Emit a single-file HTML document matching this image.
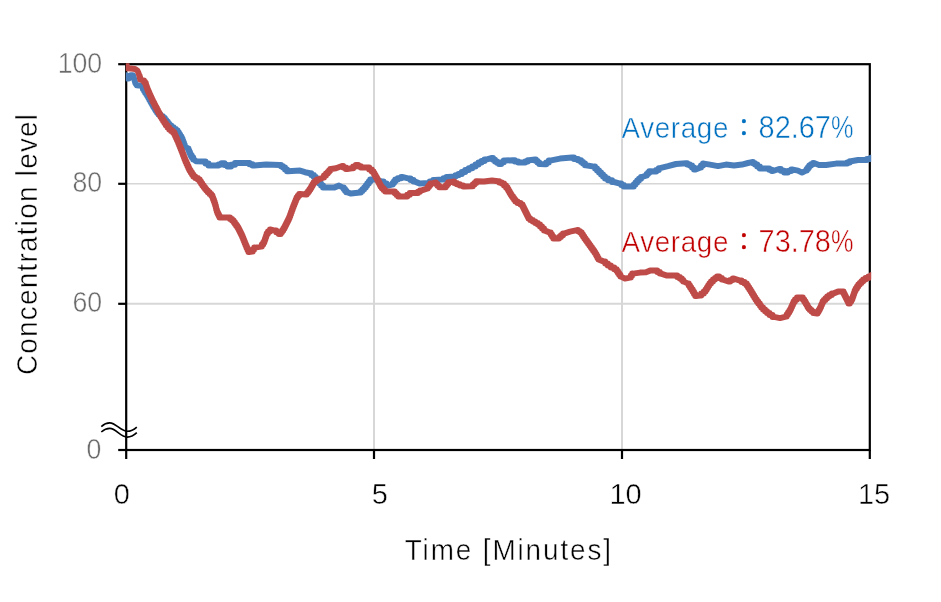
<!DOCTYPE html>
<html lang="en">
<head>
<meta charset="utf-8">
<title>Concentration level over time</title>
<style>
html,body{margin:0;padding:0;background:#fff;}
body{width:941px;height:602px;overflow:hidden;position:relative;font-family:"Liberation Sans","Noto Sans CJK JP",sans-serif;}
svg{position:absolute;left:0;top:0;display:block;}
text{font-family:"Liberation Sans","Noto Sans CJK JP",sans-serif;}
.yt text{font-size:29.2px;fill:#6b6b6b;text-anchor:end;}
.xt text{font-size:29.9px;fill:#000;text-anchor:middle;}
.lab{font-size:30px;fill:#000;text-anchor:middle;}
.avg{font-size:31.2px;}
.aw{font-size:30px;letter-spacing:0.68px;}
.col{font-size:24px;stroke:currentColor;stroke-width:0.7px;}
text{stroke:#fff;stroke-width:0.5px;paint-order:fill stroke;}
</style>
</head>
<body>
<svg width="941" height="602" viewBox="0 0 941 602">
<rect width="941" height="602" fill="#ffffff"/>
<!-- gridlines -->
<g stroke="#d7d7d7" stroke-width="2" fill="none">
<line x1="127" y1="183.8" x2="869" y2="183.8" stroke="#d6d6d6" stroke-width="1.6"/>
<line x1="127" y1="303.7" x2="869" y2="303.7"/>
<line x1="374" y1="65" x2="374" y2="449"/>
<line x1="622" y1="65" x2="622" y2="449"/>
</g>
<!-- axes -->
<g stroke="#000" stroke-width="2.2" fill="none" stroke-linecap="butt">
<rect x="126.2" y="64.2" width="743.6" height="385.8"/>
<line x1="118.2" y1="64.2" x2="126" y2="64.2"/>
<line x1="118.2" y1="183.8" x2="126" y2="183.8"/>
<line x1="118.2" y1="303.8" x2="126" y2="303.8"/>
<line x1="118.2" y1="450" x2="126" y2="450"/>
<line x1="126.2" y1="450" x2="126.2" y2="459"/>
<line x1="374" y1="450" x2="374" y2="459"/>
<line x1="622" y1="450" x2="622" y2="459"/>
<line x1="869.8" y1="450" x2="869.8" y2="459"/>
</g>
<!-- axis break -->
<g stroke="#000" stroke-width="1.6" fill="none" stroke-linecap="butt">
<path d="M101.3,426.6 C104,424.1 106.8,422.9 109.8,422.9 C116,422.9 120.5,431.3 127.2,431.3 C130.8,431.3 133.8,429.8 136.8,427.1"/>
<path d="M101.3,432 C104,429.6 106.8,428.4 109.8,428.4 C116,428.4 120.5,437.1 127.2,437.1 C130.8,437.1 133.8,435.5 136.8,432.7"/>
</g>
<!-- series -->
<defs><clipPath id="plot"><rect x="125.8" y="63.2" width="745.4" height="388"/></clipPath></defs>
<polyline fill="none" stroke="#4a7ebb" stroke-width="6" stroke-linejoin="round" stroke-linecap="round" clip-path="url(#plot)" points="125.0,75.2 126.4,75.2 127.3,78.4 129.0,78.4 130.8,75.3 133.0,75.3 134.2,79.0 135.3,83.0 136.8,85.3 139.0,85.6 140.8,85.5 142.4,87.0 142.9,87.0 142.9,89.0 144.1,89.0 144.1,91.0 144.6,91.0 145.1,91.0 145.1,92.7 146.2,92.7 146.2,94.3 147.3,94.3 147.3,96.0 147.8,96.0 148.3,96.0 148.3,97.8 149.3,97.8 149.3,99.7 150.3,99.7 150.3,101.5 150.8,101.5 151.3,101.5 151.3,103.2 152.2,103.2 152.2,104.8 153.1,104.8 153.1,106.5 153.6,106.5 154.1,106.5 154.1,108.0 155.0,108.0 155.0,109.5 155.9,109.5 155.9,111.0 156.4,111.0 157.1,111.0 157.1,112.8 158.5,112.8 158.5,114.5 159.2,114.5 160.4,114.5 160.4,116.2 162.8,116.2 162.8,118.0 164.0,118.0 164.8,118.0 164.8,119.9 166.2,119.9 166.2,121.8 167.8,121.8 167.8,123.7 169.2,123.7 169.2,125.6 170.0,125.6 171.2,125.6 171.2,127.3 173.5,127.3 173.5,128.9 175.8,128.9 175.8,130.6 177.0,130.6 177.6,130.6 177.6,132.6 178.9,132.6 178.9,134.6 180.1,134.6 180.1,136.6 181.4,136.6 181.4,138.6 182.0,138.6 182.4,138.6 182.4,140.6 183.1,140.6 183.1,142.6 183.9,142.6 183.9,144.6 184.6,144.6 184.6,146.6 185.0,146.6 188.0,148.6 188.4,148.6 188.4,150.3 189.1,150.3 189.1,152.1 189.9,152.1 189.9,153.8 190.6,153.8 190.6,155.6 191.0,155.6 191.8,155.6 191.8,157.6 193.2,157.6 193.2,159.6 194.0,159.6 196.0,161.2 204.0,161.6 205.5,161.6 205.5,163.6 208.5,163.6 208.5,165.6 210.0,165.6 217.0,165.6 218.5,165.6 218.5,164.4 221.5,164.4 221.5,163.2 223.0,163.2 224.5,163.2 224.5,164.9 227.5,164.9 227.5,166.6 229.0,166.6 231.0,166.6 231.0,164.8 235.0,164.8 235.0,163.0 237.0,163.0 248.0,163.0 249.5,163.0 249.5,164.3 252.5,164.3 252.5,165.6 254.0,165.6 266.0,164.6 280.0,165.0 281.0,165.0 281.0,166.3 283.0,166.3 283.0,167.6 284.0,167.6 285.0,167.6 285.0,169.4 287.0,169.4 287.0,171.2 288.0,171.2 300.0,170.6 305.0,172.2 310.0,173.2 311.2,173.2 311.2,175.1 313.8,175.1 313.8,177.0 315.0,177.0 315.8,177.0 315.8,179.2 317.5,179.2 317.5,181.4 319.2,181.4 319.2,183.6 320.0,183.6 321.0,183.6 321.0,185.6 323.0,185.6 323.0,187.6 324.0,187.6 334.0,187.6 339.0,185.6 343.0,187.6 343.7,187.6 343.7,189.1 345.0,189.1 345.0,190.7 346.3,190.7 346.3,192.2 347.0,192.2 351.0,193.6 360.0,192.6 360.8,192.6 360.8,190.9 362.5,190.9 362.5,189.3 364.2,189.3 364.2,187.6 365.0,187.6 365.8,187.6 365.8,185.6 367.2,185.6 367.2,183.6 368.8,183.6 368.8,181.6 370.2,181.6 370.2,179.6 371.0,179.6 376.0,179.6 382.0,181.6 383.5,181.6 383.5,183.6 386.5,183.6 386.5,185.6 388.0,185.6 392.0,184.6 392.7,184.6 392.7,182.9 394.0,182.9 394.0,181.3 395.3,181.3 395.3,179.6 396.0,179.6 397.8,179.6 397.8,178.3 401.2,178.3 401.2,177.1 403.0,177.1 409.0,178.6 410.5,178.6 410.5,180.1 413.5,180.1 413.5,181.6 415.0,181.6 420.0,183.6 428.0,183.0 429.8,183.0 429.8,181.5 433.2,181.5 433.2,180.0 435.0,180.0 442.0,179.6 443.5,179.6 443.5,178.3 446.5,178.3 446.5,177.0 448.0,177.0 454.0,176.6 455.5,176.6 455.5,175.3 458.5,175.3 458.5,174.1 460.0,174.1 461.8,174.1 461.8,172.1 465.2,172.1 465.2,170.0 467.0,170.0 468.8,170.0 468.8,168.3 472.2,168.3 472.2,166.6 474.0,166.6 475.5,166.6 475.5,164.6 478.5,164.6 478.5,162.6 480.0,162.6 481.5,162.6 481.5,161.1 484.5,161.1 484.5,159.6 486.0,159.6 492.0,158.0 493.0,158.0 493.0,159.8 495.0,159.8 495.0,161.6 496.0,161.6 497.0,161.6 497.0,162.8 499.0,162.8 499.0,164.1 500.0,164.1 501.2,164.1 501.2,162.3 503.8,162.3 503.8,160.6 505.0,160.6 513.0,160.2 514.8,160.2 514.8,161.4 518.2,161.4 518.2,162.6 520.0,162.6 524.0,162.6 525.2,162.6 525.2,161.4 527.8,161.4 527.8,160.2 529.0,160.2 535.0,159.6 535.8,159.6 535.8,161.1 537.5,161.1 537.5,162.6 539.2,162.6 539.2,164.1 540.0,164.1 545.0,164.2 546.2,164.2 546.2,162.4 548.8,162.4 548.8,160.6 550.0,160.6 560.0,158.6 572.0,157.6 574.0,157.6 574.0,158.9 578.0,158.9 578.0,160.2 580.0,160.2 581.0,160.2 581.0,161.9 583.0,161.9 583.0,163.5 585.0,163.5 585.0,165.2 586.0,165.2 594.0,166.6 595.0,166.6 595.0,168.6 597.0,168.6 597.0,170.6 599.0,170.6 599.0,172.6 600.0,172.6 601.0,172.6 601.0,174.6 603.0,174.6 603.0,176.6 605.0,176.6 605.0,178.6 606.0,178.6 608.0,178.6 608.0,180.3 612.0,180.3 612.0,182.0 614.0,182.0 620.0,183.6 621.2,183.6 621.2,185.1 623.8,185.1 623.8,186.6 625.0,186.6 633.0,186.6 633.8,186.6 633.8,184.6 635.5,184.6 635.5,182.6 637.2,182.6 637.2,180.6 638.0,180.6 639.0,180.6 639.0,178.8 641.0,178.8 641.0,177.0 642.0,177.0 646.0,175.6 646.7,175.6 646.7,174.1 648.0,174.1 648.0,172.7 649.3,172.7 649.3,171.2 650.0,171.2 655.0,171.6 656.2,171.6 656.2,169.9 658.8,169.9 658.8,168.2 660.0,168.2 668.0,166.2 676.0,164.0 686.0,163.2 687.2,163.2 687.2,164.4 689.8,164.4 689.8,165.6 691.0,165.6 692.0,165.6 692.0,167.6 694.0,167.6 694.0,169.6 695.0,169.6 700.0,167.6 701.0,167.6 701.0,165.6 703.0,165.6 703.0,163.6 704.0,163.6 710.0,164.6 718.0,166.1 726.0,164.6 734.0,165.6 742.0,164.6 748.0,163.0 752.0,162.1 753.0,162.1 753.0,163.3 755.0,163.3 755.0,164.6 756.0,164.6 757.2,164.6 757.2,166.6 759.8,166.6 759.8,168.6 761.0,168.6 768.0,168.6 769.2,168.6 769.2,169.8 771.8,169.8 771.8,171.0 773.0,171.0 779.0,169.0 780.8,169.0 780.8,170.8 784.2,170.8 784.2,172.6 786.0,172.6 787.8,172.6 787.8,171.1 791.2,171.1 791.2,169.6 793.0,169.6 798.0,170.6 802.0,172.6 806.0,170.6 806.7,170.6 806.7,168.9 808.0,168.9 808.0,167.3 809.3,167.3 809.3,165.6 810.0,165.6 811.0,165.6 811.0,164.3 813.0,164.3 813.0,163.0 814.0,163.0 819.0,165.0 826.0,165.0 836.0,163.6 846.0,163.6 847.2,163.6 847.2,162.4 849.8,162.4 849.8,161.2 851.0,161.2 858.0,160.0 865.0,160.0 867.0,160.0 867.0,158.9 871.0,158.9 871.0,157.8 873.0,157.8"/>
<polyline fill="none" stroke="#be4b48" stroke-width="6" stroke-linejoin="round" stroke-linecap="round" clip-path="url(#plot)" points="126.6,64.0 126.8,68.3 131.0,68.6 135.0,69.0 137.3,70.5 138.5,73.0 139.4,76.0 139.7,76.0 139.7,77.8 140.2,77.8 140.2,79.5 140.4,79.5 143.3,80.5 143.9,80.5 143.9,81.8 144.9,81.8 144.9,83.0 145.5,83.0 145.8,83.0 145.8,84.7 146.2,84.7 146.2,86.3 146.8,86.3 146.8,88.0 147.0,88.0 147.4,88.0 147.4,89.8 148.1,89.8 148.1,91.5 148.9,91.5 148.9,93.2 149.6,93.2 149.6,95.0 150.0,95.0 150.4,95.0 150.4,96.7 151.2,96.7 151.2,98.3 151.9,98.3 151.9,100.0 152.3,100.0 152.7,100.0 152.7,101.7 153.6,101.7 153.6,103.3 154.4,103.3 154.4,105.0 154.8,105.0 155.2,105.0 155.2,106.7 156.2,106.7 156.2,108.3 157.0,108.3 157.0,110.0 157.5,110.0 157.9,110.0 157.9,111.7 158.8,111.7 158.8,113.3 159.6,113.3 159.6,115.0 160.0,115.0 160.6,115.0 160.6,117.0 161.9,117.0 161.9,119.0 163.1,119.0 163.1,121.0 164.4,121.0 164.4,123.0 165.0,123.0 165.8,123.0 165.8,125.2 167.5,125.2 167.5,127.4 169.2,127.4 169.2,129.6 170.0,129.6 171.0,129.6 171.0,131.1 173.0,131.1 173.0,132.6 174.0,132.6 174.4,132.6 174.4,134.4 175.2,134.4 175.2,136.2 176.0,136.2 176.0,138.0 176.8,138.0 176.8,139.8 177.6,139.8 177.6,141.6 178.0,141.6 178.4,141.6 178.4,143.6 179.2,143.6 179.2,145.6 180.0,145.6 180.0,147.6 180.8,147.6 180.8,149.6 181.6,149.6 181.6,151.6 182.0,151.6 182.4,151.6 182.4,153.6 183.1,153.6 183.1,155.6 183.9,155.6 183.9,157.6 184.6,157.6 184.6,159.6 185.0,159.6 185.5,159.6 185.5,161.8 186.5,161.8 186.5,164.0 187.5,164.0 187.5,166.2 188.5,166.2 188.5,168.4 189.5,168.4 189.5,170.6 190.0,170.6 190.7,170.6 190.7,172.6 192.0,172.6 192.0,174.6 193.3,174.6 193.3,176.6 194.0,176.6 195.2,176.6 195.2,178.1 197.8,178.1 197.8,179.6 199.0,179.6 199.7,179.6 199.7,181.6 201.0,181.6 201.0,183.6 202.3,183.6 202.3,185.6 203.0,185.6 203.7,185.6 203.7,187.3 205.0,187.3 205.0,188.9 206.3,188.9 206.3,190.6 207.0,190.6 207.8,190.6 207.8,192.3 209.5,192.3 209.5,193.9 211.2,193.9 211.2,195.6 212.0,195.6 212.4,195.6 212.4,197.6 213.1,197.6 213.1,199.6 213.9,199.6 213.9,201.6 214.6,201.6 214.6,203.6 215.0,203.6 215.2,203.6 215.2,205.6 215.8,205.6 215.8,207.6 216.2,207.6 216.2,209.6 216.8,209.6 216.8,211.6 217.0,211.6 217.5,211.6 217.5,213.6 218.5,213.6 218.5,215.6 219.5,215.6 219.5,217.6 220.0,217.6 229.0,217.6 230.0,217.6 230.0,219.1 232.0,219.1 232.0,220.6 233.0,220.6 233.6,220.6 233.6,222.3 234.9,222.3 234.9,224.1 236.1,224.1 236.1,225.8 237.4,225.8 237.4,227.6 238.0,227.6 238.5,227.6 238.5,229.6 239.5,229.6 239.5,231.6 240.5,231.6 240.5,233.6 241.5,233.6 241.5,235.6 242.0,235.6 242.4,235.6 242.4,237.6 243.2,237.6 243.2,239.6 244.0,239.6 244.0,241.6 244.8,241.6 244.8,243.6 245.6,243.6 245.6,245.6 246.0,245.6 246.5,245.6 246.5,247.8 247.5,247.8 247.5,249.9 248.5,249.9 248.5,252.1 249.0,252.1 252.0,251.6 252.8,251.6 252.8,249.6 254.2,249.6 254.2,247.6 255.0,247.6 261.0,246.6 261.8,246.6 261.8,244.6 263.2,244.6 263.2,242.6 264.0,242.6 264.3,242.6 264.3,240.8 264.9,240.8 264.9,239.0 265.5,239.0 265.5,237.2 266.1,237.2 266.1,235.4 266.7,235.4 266.7,233.6 267.0,233.6 268.0,233.6 268.0,231.6 270.0,231.6 270.0,229.6 271.0,229.6 275.0,230.6 276.2,230.6 276.2,232.3 278.8,232.3 278.8,234.1 280.0,234.1 280.7,234.1 280.7,232.3 282.0,232.3 282.0,230.4 283.3,230.4 283.3,228.6 284.0,228.6 284.5,228.6 284.5,226.6 285.5,226.6 285.5,224.6 286.5,224.6 286.5,222.6 287.5,222.6 287.5,220.6 288.5,220.6 288.5,218.6 289.0,218.6 289.4,218.6 289.4,216.4 290.2,216.4 290.2,214.2 291.0,214.2 291.0,212.0 291.8,212.0 291.8,209.8 292.6,209.8 292.6,207.6 293.0,207.6 293.4,207.6 293.4,205.6 294.2,205.6 294.2,203.6 295.0,203.6 295.0,201.6 295.8,201.6 295.8,199.6 296.6,199.6 296.6,197.6 297.0,197.6 297.8,197.6 297.8,195.8 299.2,195.8 299.2,194.1 300.0,194.1 306.0,194.6 306.7,194.6 306.7,192.9 308.0,192.9 308.0,191.3 309.3,191.3 309.3,189.6 310.0,189.6 310.5,189.6 310.5,187.8 311.5,187.8 311.5,186.1 312.5,186.1 312.5,184.3 313.5,184.3 313.5,182.6 314.0,182.6 315.0,182.6 315.0,181.1 317.0,181.1 317.0,179.6 318.0,179.6 323.0,177.6 324.0,177.6 324.0,175.6 326.0,175.6 326.0,173.6 327.0,173.6 327.7,173.6 327.7,172.1 329.0,172.1 329.0,170.5 330.3,170.5 330.3,169.0 331.0,169.0 336.0,168.2 342.0,166.0 343.2,166.0 343.2,167.5 345.8,167.5 345.8,169.0 347.0,169.0 352.0,168.2 353.2,168.2 353.2,166.6 355.8,166.6 355.8,165.0 357.0,165.0 358.2,165.0 358.2,166.3 360.8,166.3 360.8,167.6 362.0,167.6 368.0,167.6 369.2,167.6 369.2,169.6 371.8,169.6 371.8,171.6 373.0,171.6 373.5,171.6 373.5,173.3 374.5,173.3 374.5,175.1 375.5,175.1 375.5,176.8 376.5,176.8 376.5,178.6 377.0,178.6 377.5,178.6 377.5,180.6 378.5,180.6 378.5,182.6 379.5,182.6 379.5,184.6 380.5,184.6 380.5,186.6 381.0,186.6 381.8,186.6 381.8,188.3 383.5,188.3 383.5,189.9 385.2,189.9 385.2,191.6 386.0,191.6 394.0,191.6 394.8,191.6 394.8,193.3 396.5,193.3 396.5,194.9 398.2,194.9 398.2,196.6 399.0,196.6 406.0,196.6 407.2,196.6 407.2,194.8 409.8,194.8 409.8,193.0 411.0,193.0 417.0,193.0 418.0,193.0 418.0,191.8 420.0,191.8 420.0,190.6 421.0,190.6 427.0,188.6 427.7,188.6 427.7,186.9 429.0,186.9 429.0,185.3 430.3,185.3 430.3,183.6 431.0,183.6 435.0,182.6 435.8,182.6 435.8,184.1 437.5,184.1 437.5,185.7 439.2,185.7 439.2,187.2 440.0,187.2 445.0,187.2 445.7,187.2 445.7,185.5 447.0,185.5 447.0,183.9 448.3,183.9 448.3,182.2 449.0,182.2 453.0,181.6 454.2,181.6 454.2,182.9 456.8,182.9 456.8,184.2 458.0,184.2 459.8,184.2 459.8,185.4 463.2,185.4 463.2,186.6 465.0,186.6 472.0,186.2 472.8,186.2 472.8,184.5 474.5,184.5 474.5,182.9 476.2,182.9 476.2,181.2 477.0,181.2 484.0,181.6 492.0,180.6 498.0,181.2 499.2,181.2 499.2,182.4 501.8,182.4 501.8,183.6 503.0,183.6 504.0,183.6 504.0,185.6 506.0,185.6 506.0,187.6 507.0,187.6 507.5,187.6 507.5,189.3 508.5,189.3 508.5,191.1 509.5,191.1 509.5,192.8 510.5,192.8 510.5,194.6 511.0,194.6 511.6,194.6 511.6,196.3 512.9,196.3 512.9,198.1 514.1,198.1 514.1,199.8 515.4,199.8 515.4,201.6 516.0,201.6 517.5,201.6 517.5,203.1 520.5,203.1 520.5,204.6 522.0,204.6 522.5,204.6 522.5,206.6 523.5,206.6 523.5,208.6 524.5,208.6 524.5,210.6 525.0,210.6 525.5,210.6 525.5,212.6 526.5,212.6 526.5,214.6 527.5,214.6 527.5,216.6 528.5,216.6 528.5,218.6 529.0,218.6 530.2,218.6 530.2,220.1 532.8,220.1 532.8,221.6 534.0,221.6 535.2,221.6 535.2,223.1 537.8,223.1 537.8,224.6 539.0,224.6 540.0,224.6 540.0,226.6 542.0,226.6 542.0,228.6 544.0,228.6 544.0,230.6 545.0,230.6 550.0,232.6 550.7,232.6 550.7,234.6 552.0,234.6 552.0,236.6 553.3,236.6 553.3,238.6 554.0,238.6 558.0,238.6 559.0,238.6 559.0,236.9 561.0,236.9 561.0,235.3 563.0,235.3 563.0,233.6 564.0,233.6 570.0,231.6 577.0,230.1 578.0,230.1 578.0,231.3 580.0,231.3 580.0,232.6 581.0,232.6 581.7,232.6 581.7,234.6 583.0,234.6 583.0,236.6 584.3,236.6 584.3,238.6 585.0,238.6 585.6,238.6 585.6,240.3 586.9,240.3 586.9,242.1 588.1,242.1 588.1,243.8 589.4,243.8 589.4,245.6 590.0,245.6 590.6,245.6 590.6,247.3 591.9,247.3 591.9,249.1 593.1,249.1 593.1,250.8 594.4,250.8 594.4,252.6 595.0,252.6 595.5,252.6 595.5,254.3 596.5,254.3 596.5,256.1 597.5,256.1 597.5,257.9 598.5,257.9 598.5,259.6 599.0,259.6 604.0,261.6 605.2,261.6 605.2,263.6 607.8,263.6 607.8,265.6 609.0,265.6 610.8,265.6 610.8,267.4 614.2,267.4 614.2,269.2 616.0,269.2 616.6,269.2 616.6,271.1 617.9,271.1 617.9,272.9 619.1,272.9 619.1,274.8 620.4,274.8 620.4,276.6 621.0,276.6 625.0,278.6 630.0,277.6 630.8,277.6 630.8,275.6 632.2,275.6 632.2,273.6 633.0,273.6 640.0,272.6 646.0,272.2 650.0,270.6 656.0,270.6 657.2,270.6 657.2,272.1 659.8,272.1 659.8,273.6 661.0,273.6 667.0,275.6 676.0,275.6 677.2,275.6 677.2,277.1 679.8,277.1 679.8,278.6 681.0,278.6 681.8,278.6 681.8,280.1 683.2,280.1 683.2,281.6 684.0,281.6 688.0,283.6 688.7,283.6 688.7,285.6 690.0,285.6 690.0,287.6 691.3,287.6 691.3,289.6 692.0,289.6 692.7,289.6 692.7,291.8 694.0,291.8 694.0,293.9 695.3,293.9 695.3,296.1 696.0,296.1 700.0,295.6 701.2,295.6 701.2,293.6 703.8,293.6 703.8,291.6 705.0,291.6 705.6,291.6 705.6,289.6 706.9,289.6 706.9,287.6 708.1,287.6 708.1,285.6 709.4,285.6 709.4,283.6 710.0,283.6 711.0,283.6 711.0,281.6 713.0,281.6 713.0,279.6 714.0,279.6 715.0,279.6 715.0,278.1 717.0,278.1 717.0,276.6 718.0,276.6 719.2,276.6 719.2,278.1 721.8,278.1 721.8,279.6 723.0,279.6 729.0,281.6 730.2,281.6 730.2,280.1 732.8,280.1 732.8,278.6 734.0,278.6 740.0,280.6 741.5,280.6 741.5,282.1 744.5,282.1 744.5,283.6 746.0,283.6 746.7,283.6 746.7,285.6 748.0,285.6 748.0,287.6 749.3,287.6 749.3,289.6 750.0,289.6 750.6,289.6 750.6,291.6 751.8,291.6 751.8,293.6 753.0,293.6 753.0,295.6 754.2,295.6 754.2,297.6 755.4,297.6 755.4,299.6 756.0,299.6 756.8,299.6 756.8,301.6 758.2,301.6 758.2,303.6 759.8,303.6 759.8,305.6 761.2,305.6 761.2,307.6 762.0,307.6 763.0,307.6 763.0,309.4 765.0,309.4 765.0,311.3 767.0,311.3 767.0,313.1 768.0,313.1 769.5,313.1 769.5,315.0 772.5,315.0 772.5,316.9 774.0,316.9 780.0,318.1 786.0,316.6 786.7,316.6 786.7,314.6 788.0,314.6 788.0,312.6 789.3,312.6 789.3,310.6 790.0,310.6 790.4,310.6 790.4,308.8 791.2,308.8 791.2,307.0 792.0,307.0 792.0,305.2 792.8,305.2 792.8,303.4 793.6,303.4 793.6,301.6 794.0,301.6 795.0,301.6 795.0,299.6 797.0,299.6 797.0,297.6 798.0,297.6 802.0,297.6 802.8,297.6 802.8,299.6 804.2,299.6 804.2,301.6 805.0,301.6 805.5,301.6 805.5,303.4 806.5,303.4 806.5,305.1 807.5,305.1 807.5,306.9 808.5,306.9 808.5,308.6 809.0,308.6 809.8,308.6 809.8,310.1 811.5,310.1 811.5,311.6 813.2,311.6 813.2,313.1 814.0,313.1 817.0,313.6 817.5,313.6 817.5,311.9 818.5,311.9 818.5,310.3 819.5,310.3 819.5,308.6 820.0,308.6 820.4,308.6 820.4,306.9 821.1,306.9 821.1,305.1 821.9,305.1 821.9,303.4 822.6,303.4 822.6,301.6 823.0,301.6 823.8,301.6 823.8,299.9 825.5,299.9 825.5,298.3 827.2,298.3 827.2,296.6 828.0,296.6 829.2,296.6 829.2,295.1 831.8,295.1 831.8,293.6 833.0,293.6 838.0,291.6 843.0,291.6 843.5,291.6 843.5,293.6 844.5,293.6 844.5,295.6 845.5,295.6 845.5,297.6 846.0,297.6 846.5,297.6 846.5,299.6 847.5,299.6 847.5,301.6 848.5,301.6 848.5,303.6 849.0,303.6 849.8,303.6 849.8,301.6 851.2,301.6 851.2,299.6 852.0,299.6 852.3,299.6 852.3,297.8 852.9,297.8 852.9,296.0 853.5,296.0 853.5,294.2 854.1,294.2 854.1,292.4 854.7,292.4 854.7,290.6 855.0,290.6 855.7,290.6 855.7,288.6 857.0,288.6 857.0,286.6 858.3,286.6 858.3,284.6 859.0,284.6 859.8,284.6 859.8,282.9 861.5,282.9 861.5,281.3 863.2,281.3 863.2,279.6 864.0,279.6 865.5,279.6 865.5,278.1 868.5,278.1 868.5,276.6 871.5,276.6 871.5,275.1 873.0,275.1"/>
<!-- tick labels -->
<g class="yt">
<text transform="translate(102.2,72.5) scale(0.915,1)">100</text>
<text transform="translate(102.2,192.2) scale(0.915,1)">80</text>
<text transform="translate(102.2,312.2) scale(0.915,1)">60</text>
<text transform="translate(101.3,458.7) scale(0.915,1)">0</text>
</g>
<g class="xt">
<text transform="translate(121.8,504.1) scale(0.97,1)">0</text>
<text transform="translate(379.8,504.1) scale(0.97,1)">5</text>
<text transform="translate(625.5,504.1) scale(0.97,1)">10</text>
<text transform="translate(874,504.1) scale(0.97,1)">15</text>
</g>
<!-- axis titles -->
<text class="lab" style="letter-spacing:2.02px" transform="translate(508.8,560) scale(0.93,1)">Time [Minutes]</text>
<text class="lab" style="letter-spacing:1.34px" transform="translate(36.5,243.9) rotate(-90) scale(0.93,1)">Concentration level</text>
<!-- annotations -->
<text class="avg" transform="translate(0,138.3) scale(0.927,1)" fill="#0070c0" color="#0070c0"><tspan class="aw" x="670.5">Average</tspan><tspan class="col" x="790.5" dy="-1.95">：</tspan><tspan x="818.3" dy="1.95">82.67<tspan textLength="24.3" lengthAdjust="spacingAndGlyphs">%</tspan></tspan></text>
<text class="avg" transform="translate(0,251.9) scale(0.927,1)" fill="#c00000" color="#c00000"><tspan class="aw" x="670.5">Average</tspan><tspan class="col" x="790.5" dy="-1.95">：</tspan><tspan x="818.3" dy="1.95">73.78<tspan textLength="24.3" lengthAdjust="spacingAndGlyphs">%</tspan></tspan></text>
</svg>
</body>
</html>
